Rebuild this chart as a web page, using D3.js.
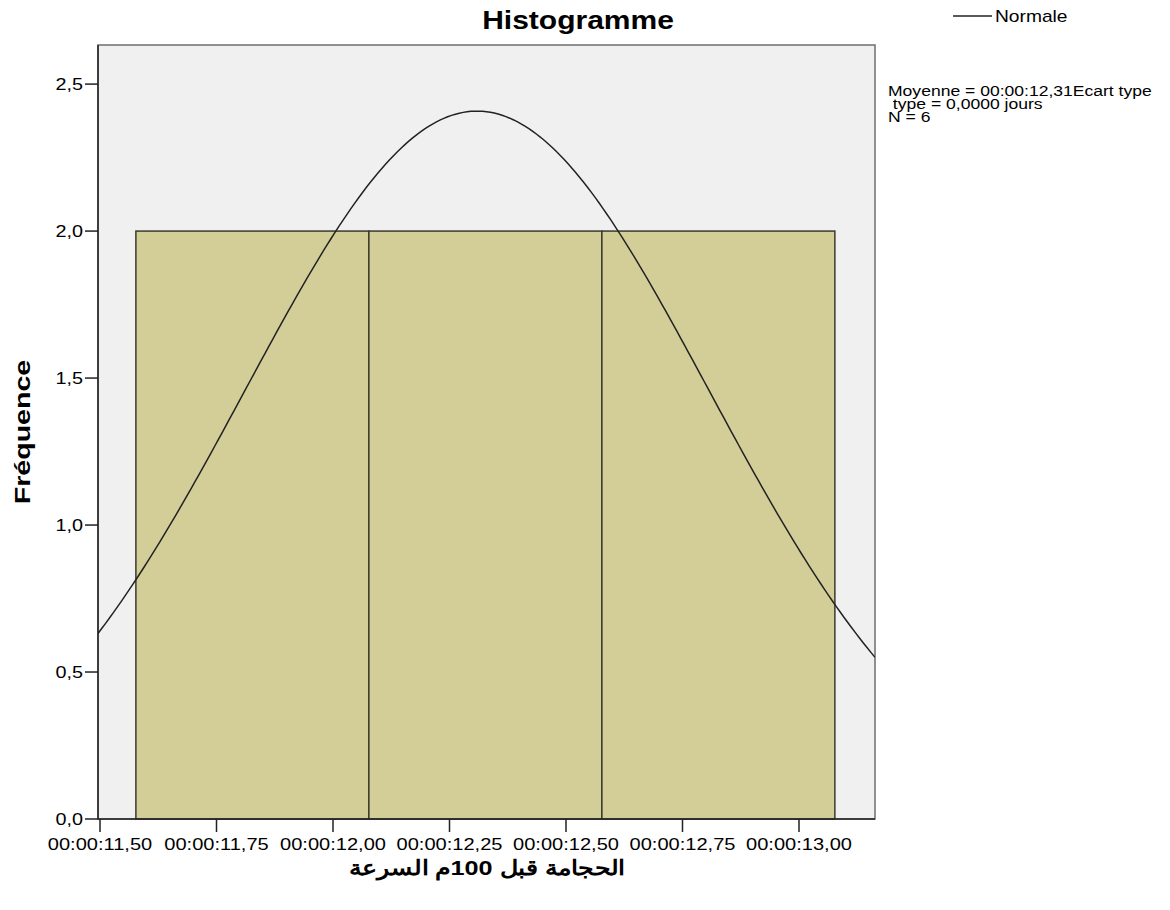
<!DOCTYPE html>
<html>
<head>
<meta charset="utf-8">
<script src="https://cdn.jsdelivr.net/npm/d3@7"></script>
<style>
  body { margin: 0; background: #fff; }
  text { font-family: "Liberation Sans", Arial, sans-serif; fill: #000; }
</style>
</head>
<body>
<div id="chart"></div>
<script>
// bins of the histogram (seconds) and their counts
const binEdges = [11.577, 12.077, 12.577, 13.077];
const counts = [2, 2, 2];

// fitted normal
const mean = 12.309;
const sd = 0.497;
const n = 6;

const xTicks = [11.50, 11.75, 12.00, 12.25, 12.50, 12.75, 13.00];
const xTickLabels = ["00:00:11,50", "00:00:11,75", "00:00:12,00", "00:00:12,25", "00:00:12,50", "00:00:12,75", "00:00:13,00"];
const yTicks = [0, 0.5, 1.0, 1.5, 2.0, 2.5];
const yTickLabels = ["0,0", "0,5", "1,0", "1,5", "2,0", "2,5"];

const statsLines = ["Moyenne = 00:00:12,31Ecart type", " type = 0,0000 jours", "N = 6"];

const width = 1170, height = 910;
const plot = { left: 98, top: 45, right: 875, bottom: 819 };
const stretch = 1.2;

const svg = d3.select("#chart").append("svg")
  .attr("width", width)
  .attr("height", height);

const xScale = d3.scaleLinear()
  .domain([11.4957, 13.1631])
  .range([plot.left, plot.right]);

const yScale = d3.scaleLinear()
  .domain([0, 2.633])
  .range([plot.bottom, plot.top]);

// text helper, glyphs a bit wider like the original export
const label = (g, x, y, str, size, opts = {}) => g.append("text")
  .attr("transform", `translate(${x},${y}) scale(${opts.sx ?? stretch},1)`)
  .attr("font-size", size)
  .attr("font-weight", opts.bold ? "bold" : null)
  .attr("text-anchor", opts.anchor || "start")
  .style("white-space", "pre")
  .text(str);

// plot background
svg.append("rect")
  .attr("x", plot.left).attr("y", plot.top)
  .attr("width", plot.right - plot.left)
  .attr("height", plot.bottom - plot.top)
  .attr("fill", "#f0f0f0")
  .attr("stroke", "#6e6e6e")
  .attr("stroke-width", 1.5);

svg.append("clipPath").attr("id", "clip")
  .append("rect")
  .attr("x", plot.left).attr("y", plot.top)
  .attr("width", plot.right - plot.left)
  .attr("height", plot.bottom - plot.top);

// bars
svg.selectAll(".bar")
  .data(counts)
  .join("rect")
    .attr("class", "bar")
    .attr("x", (d, i) => xScale(binEdges[i]))
    .attr("width", (d, i) => xScale(binEdges[i + 1]) - xScale(binEdges[i]))
    .attr("y", d => yScale(d))
    .attr("height", d => yScale(0) - yScale(d))
    .attr("fill", "#d3ce98")
    .attr("stroke", "#3a3a2e")
    .attr("stroke-width", 1.5);

// normal curve scaled to counts
const binWidth = binEdges[1] - binEdges[0];
const density = x => n * binWidth / (sd * Math.sqrt(2 * Math.PI)) *
  Math.exp(-0.5 * ((x - mean) / sd) ** 2);
const curveX = d3.range(0, 201).map(i => xScale.domain()[0] + i * (xScale.domain()[1] - xScale.domain()[0]) / 200);

svg.append("path")
  .datum(curveX)
  .attr("clip-path", "url(#clip)")
  .attr("fill", "none")
  .attr("stroke", "#222")
  .attr("stroke-width", 1.5)
  .attr("d", d3.line().x(d => xScale(d)).y(d => yScale(density(d))));

// axes
const yAxis = svg.append("g");
yAxis.append("line")
  .attr("x1", plot.left).attr("x2", plot.left)
  .attr("y1", plot.top).attr("y2", plot.bottom)
  .attr("stroke", "#222").attr("stroke-width", 1.5);
yTicks.forEach((t, i) => {
  yAxis.append("line")
    .attr("x1", plot.left - 13).attr("x2", plot.left)
    .attr("y1", yScale(t)).attr("y2", yScale(t))
    .attr("stroke", "#222").attr("stroke-width", 1.5);
  label(yAxis, plot.left - 15, yScale(t) + 6, yTickLabels[i], 16.5, { anchor: "end" });
});

const xAxis = svg.append("g");
xAxis.append("line")
  .attr("x1", plot.left).attr("x2", plot.right)
  .attr("y1", plot.bottom).attr("y2", plot.bottom)
  .attr("stroke", "#222").attr("stroke-width", 1.5);
xTicks.forEach((t, i) => {
  xAxis.append("line")
    .attr("x1", xScale(t)).attr("x2", xScale(t))
    .attr("y1", plot.bottom).attr("y2", plot.bottom + 13)
    .attr("stroke", "#222").attr("stroke-width", 1.5);
  label(xAxis, xScale(t), plot.bottom + 31, xTickLabels[i], 17, { anchor: "middle", sx: 1.18 });
});

// titles
label(svg, 578, 29, "Histogramme", 25, { bold: true, anchor: "middle" });
svg.append("text")
  .attr("transform", `translate(30,${(plot.top + plot.bottom) / 2}) rotate(-90) scale(1.3,1)`)
  .attr("font-size", 22)
  .attr("font-weight", "bold")
  .attr("text-anchor", "middle")
  .text("Fréquence");
label(svg, 487, 875, "الحجامة قبل 100م السرعة", 21, { bold: true, anchor: "middle", sx: 1.2 });

// legend
svg.append("line")
  .attr("x1", 953).attr("x2", 992)
  .attr("y1", 16).attr("y2", 16)
  .attr("stroke", "#222").attr("stroke-width", 1.5);
label(svg, 995, 22, "Normale", 16);

statsLines.forEach((s, i) => {
  label(svg, 888, [96, 109, 122][i], s, 15, { sx: 1.17 });
});
</script>
</body>
</html>
